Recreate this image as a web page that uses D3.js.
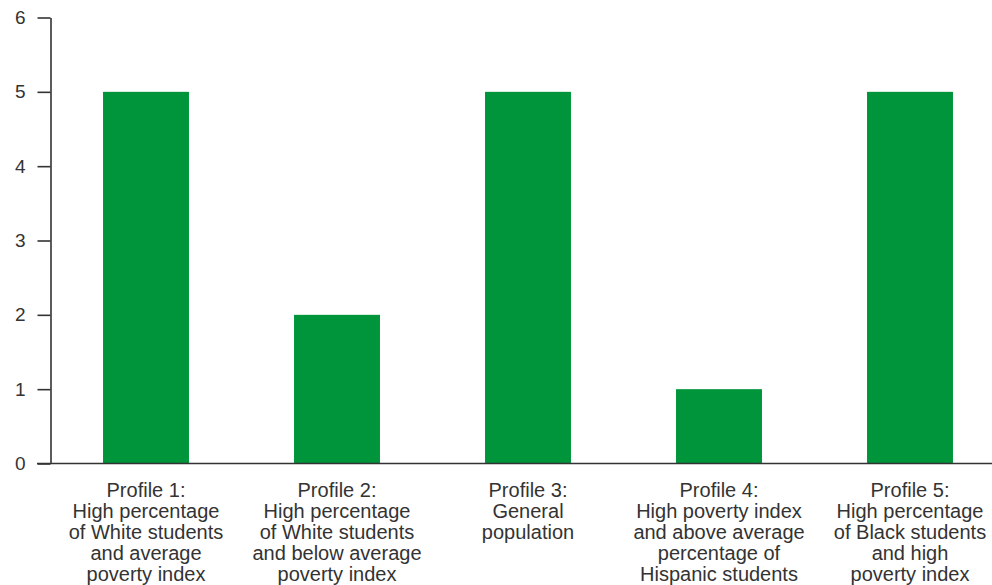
<!DOCTYPE html>
<html>
<head>
<meta charset="utf-8">
<script src="https://cdn.jsdelivr.net/npm/d3@7"></script>
<style>
  body { margin: 0; background: #fff; }
  svg text { font-family: "Liberation Sans", Arial, sans-serif; fill: #333; }
</style>
</head>
<body>
<div id="chart"></div>
<script>
(function() {

  var profiles = ["Profile 1", "Profile 2", "Profile 3", "Profile 4", "Profile 5"];
  var counts = [5, 2, 5, 1, 5];
  var labelLines = [
    ["Profile 1:", "High percentage", "of White students", "and average", "poverty index"],
    ["Profile 2:", "High percentage", "of White students", "and below average", "poverty index"],
    ["Profile 3:", "General", "population"],
    ["Profile 4:", "High poverty index", "and above average", "percentage of", "Hispanic students"],
    ["Profile 5:", "High percentage", "of Black students", "and high", "poverty index"]
  ];
  var yTicks = [0, 1, 2, 3, 4, 5, 6];

  var width = 992, height = 585;

  var svg = d3.select("#chart")
    .append("svg")
    .attr("width", width)
    .attr("height", height);

  var x = d3.scaleBand()
    .domain(profiles)
    .range([50.5, 1005.5])
    .paddingInner(0.55)
    .paddingOuter(0.275);

  var y = d3.scaleLinear()
    .domain([0, 6])
    .range([463.5, 17.5]);

  // bars
  svg.selectAll("rect.bar")
    .data(counts)
    .enter().append("rect")
    .attr("class", "bar")
    .attr("x", function(d, i){ return x(profiles[i]); })
    .attr("width", x.bandwidth())
    .attr("y", function(d){ return y(d); })
    .attr("height", function(d){ return y(0) - y(d); })
    .attr("fill", "#00953a");

  // y axis
  var yAxis = svg.append("g")
    .attr("transform", "translate(50.5,0)")
    .call(d3.axisLeft(y).tickValues(yTicks).tickFormat(d3.format("d"))
      .tickSize(13).tickSizeOuter(0).tickPadding(12));

  yAxis.select(".domain").attr("stroke", "#333").attr("stroke-width", 1.6);
  yAxis.selectAll(".tick line").attr("stroke", "#333").attr("stroke-width", 1.6);
  yAxis.selectAll(".tick text")
    .attr("font-size", "19px")
    .attr("font-family", "Liberation Sans, Arial, sans-serif")
    .attr("fill", "#333");

  // baseline
  svg.append("line")
    .attr("x1", 37)
    .attr("x2", width)
    .attr("y1", y(0))
    .attr("y2", y(0))
    .attr("stroke", "#333")
    .attr("stroke-width", 1.6);

  // category labels
  var lbl = svg.selectAll("text.cat")
    .data(labelLines)
    .enter().append("text")
    .attr("class", "cat")
    .attr("text-anchor", "middle")
    .attr("font-size", "20px")
    .attr("transform", function(d, i){
      return "translate(" + (x(profiles[i]) + x.bandwidth() / 2) + ",497)";
    });

  lbl.selectAll("tspan")
    .data(function(d){ return d; })
    .enter().append("tspan")
    .attr("x", 0)
    .attr("y", function(d, i){ return i * 21; })
    .text(function(d){ return d; });

})();
</script>
</body>
</html>
